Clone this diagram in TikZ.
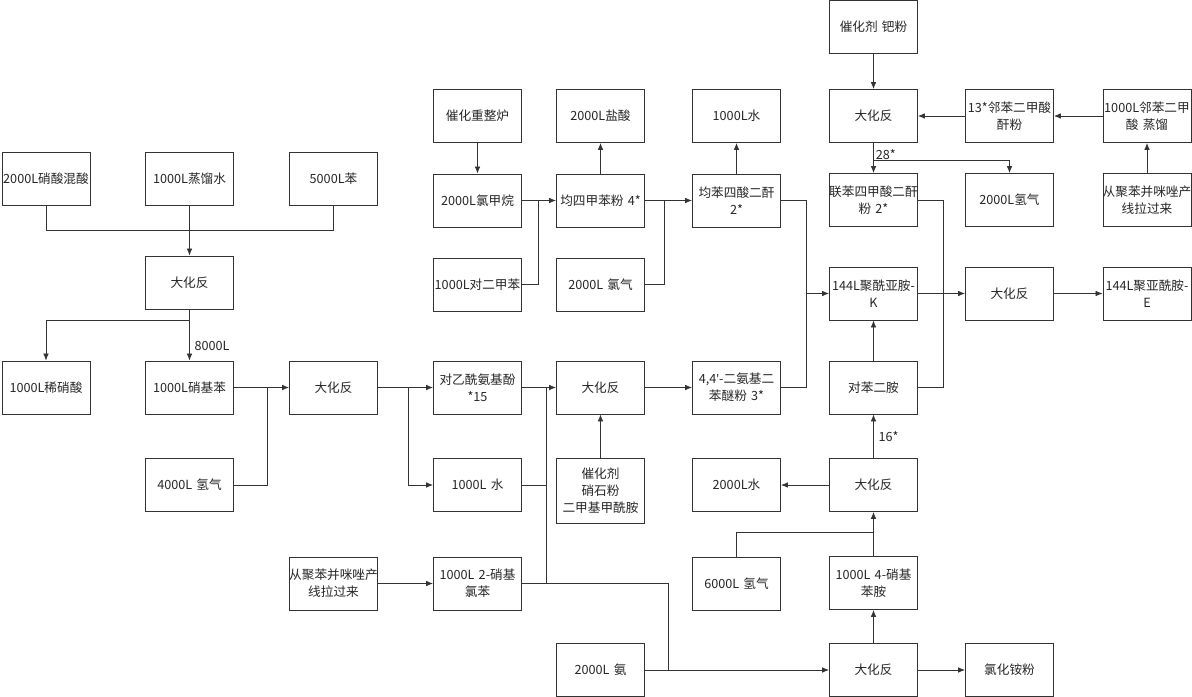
\documentclass[tikz,border=0pt]{standalone}
\usepackage{fontspec}
\setmainfont{Noto Sans CJK SC}
\newfontfamily\latinfont{Noto Sans}
\usetikzlibrary{arrows.meta}

\newcommand{\fitline}[1]{\makebox[\linewidth]{#1}}

\tikzset{
  box/.style={draw=black!80, line width=0.6pt, text width=2.2cm-2pt, minimum height=1.325cm,
    align=center, inner sep=1pt, font=\fontsize{9}{12}\selectfont, text=black!85},
  link/.style={draw=black!80, line width=0.6pt},
  flow/.style={link, -{Latex[length=5pt,width=4pt]}},
  tag/.style={font=\fontsize{9}{12}\selectfont, text=black!85}
}

\begin{document}
\begin{tikzpicture}[x=0.025cm, y=-0.025cm]
        \useasboundingbox (0,0) rectangle (1192,697);

        % nitrobenzene line
        \node[box] (mixacid)   at (46,178.5)    {\fitline{2000L硝酸混酸}};
        \node[box] (dwater)    at (189.5,178.5) {1000L蒸馏水};
        \node[box] (benzene)   at (333.5,178.5) {5000L苯};
        \node[box] (reactA)    at (189.5,282.5) {大化反};
        \node[box] (dilacid)   at (46,387.5)    {1000L稀硝酸};
        \node[box] (nitrobenz) at (189.5,387.5) {1000L硝基苯};
        \node[box] (reactB)    at (333.5,387.5) {大化反};
        \node[box] (hydroA)    at (189.5,485)   {4000L 氢气};
        \node[box] (pbiA)      at (333.5,583.5) {\fitline{从聚苯并咪唑产}\\线拉过来};

        % middle
        \node[box] (reformer)  at (477.5,116)   {催化重整炉};
        \node[box] (chlmeth)   at (477.5,200.5) {2000L氯甲烷};
        \node[box] (pxylene)   at (477.5,284.5) {\fitline{1000L对二甲苯}};
        \node[box] (hcl)       at (600.5,116)   {2000L盐酸};
        \node[box] (durene)    at (600.5,200.5) {均四甲苯粉 4*};
        \node[box] (chlorine)  at (600.5,284.5) {2000L 氯气};
        \node[box] (waterA)    at (736.5,116)   {1000L水};
        \node[box] (pmda)      at (736.5,200.5) {均苯四酸二酐\\2*};
        \node[box] (paracet)   at (477.5,387.5) {对乙酰氨基酚\\{*}15};
        \node[box] (reactC)    at (600.5,387.5) {大化反};
        \node[box] (oda)       at (736.5,387.5) {\fitline{4,4{\latinfont'}-二氨基二}\\苯醚粉 3*};
        \node[box] (waterB)    at (477.5,485)   {1000L 水};
        \node[box, minimum height=1.625cm] (catB) at (600.5,490.5) {催化剂\\硝石粉\\二甲基甲酰胺};
        \node[box] (nitroclb)  at (477.5,583.5) {1000L 2-硝基\\氯苯};
        \node[box] (ammonia)   at (600.5,670)   {2000L 氨};

        % right
        \node[box] (pdcat)     at (873.5,27)    {催化剂 钯粉};
        \node[box] (reactD)    at (873.5,116)   {大化反};
        \node[box] (phthal)    at (1009.5,116)  {13*邻苯二甲酸\\酐粉};
        \node[box] (distill)   at (1147,116)    {\fitline{1000L邻苯二甲}\\酸 蒸馏};
        \node[box] (bpda)      at (873.5,200)   {\fitline{联苯四甲酸二酐}\\粉 2*};
        \node[box] (hydroB)    at (1009.5,200)  {2000L氢气};
        \node[box] (pbiB)      at (1147,200)    {\fitline{从聚苯并咪唑产}\\线拉过来};
        \node[box] (pik)       at (873.5,293.5) {\fitline{144L聚酰亚胺-}\\K};
        \node[box] (reactE)    at (1009.5,293.5){大化反};
        \node[box] (pie)       at (1147,293.5)  {\fitline{144L聚亚酰胺-}\\E};
        \node[box] (ppd)       at (873.5,387.5) {对苯二胺};
        \node[box] (waterC)    at (736.5,485)   {2000L水};
        \node[box] (reactF)    at (873.5,485)   {大化反};
        \node[box] (hydroC)    at (736.5,583.5) {6000L 氢气};
        \node[box] (nitroan)   at (873.5,583)   {1000L 4-硝基\\苯胺};
        \node[box] (reactG)    at (873.5,670)   {大化反};
        \node[box] (nh4cl)     at (1009.5,670)  {氯化铵粉};

        % connectors, left
        \draw[link] (mixacid.south) -- ++(0,25) -| (benzene.south);
        \draw[flow] (dwater) -- (reactA);
        \draw[flow] (reactA) -- node[right, tag, pos=0.72] {8000L} (nitrobenz);
        \draw[flow] (reactA.south) -- ++(0,11) -| (dilacid.north);
        \draw[flow] (nitrobenz) -- (reactB);
        \draw[link] (hydroA.east) -| (267,387.5);
        \draw[flow] (reactB) -- (paracet);
        \draw[flow] (408,387.5) |- (waterB.west);
        \draw[flow] (pbiA) -- (nitroclb);

        % connectors, middle
        \draw[flow] (reformer) -- (chlmeth);
        \draw[flow] (chlmeth) -- (durene);
        \draw[link] (pxylene.east) -| (538,200.5);
        \draw[flow] (durene) -- (hcl);
        \draw[flow] (durene) -- (pmda);
        \draw[link] (chlorine.east) -| (664,200.5);
        \draw[flow] (pmda) -- (waterA);
        \draw[flow] (paracet) -- (reactC);
        \draw[link] (waterB.east) -| (546,387.5);
        \draw[link] (nitroclb.east) -| (546,485);
        \draw[link] (nitroclb.east) -| (668,670);
        \draw[flow] (catB) -- (reactC);
        \draw[flow] (reactC) -- (oda);
        \draw[flow] (ammonia) -- (reactG);

        % connectors, right
        \draw[flow] (oda.east) -| (806,293.5) -- (pik.west);
        \draw[link] (pmda.east) -| (806,293.5);
        \draw[link] (bpda.east) -| (943,387.5) -- (ppd.east);
        \draw[flow] (pdcat) -- (reactD);
        \draw[flow] (distill) -- (phthal);
        \draw[flow] (phthal) -- (reactD);
        \draw[flow] (pbiB) -- (distill);
        \draw[flow] (reactD) -- node[right, tag, pos=0.38, xshift=-2pt] {28*} (bpda);
        \draw[flow] (873.5,160) -| (hydroB.north);
        \draw[flow] (pik) -- (reactE);
        \draw[flow] (reactE) -- (pie);
        \draw[flow] (ppd) -- (pik);
        \draw[flow] (reactF) -- node[right, tag] {16*} (ppd);
        \draw[flow] (reactF) -- (waterC);
        \draw[flow] (nitroan) -- (reactF);
        \draw[link] (hydroC.north) |- (873.5,532);
        \draw[flow] (reactG) -- (nitroan);
        \draw[flow] (reactG) -- (nh4cl);
      \end{tikzpicture}
\end{document}
